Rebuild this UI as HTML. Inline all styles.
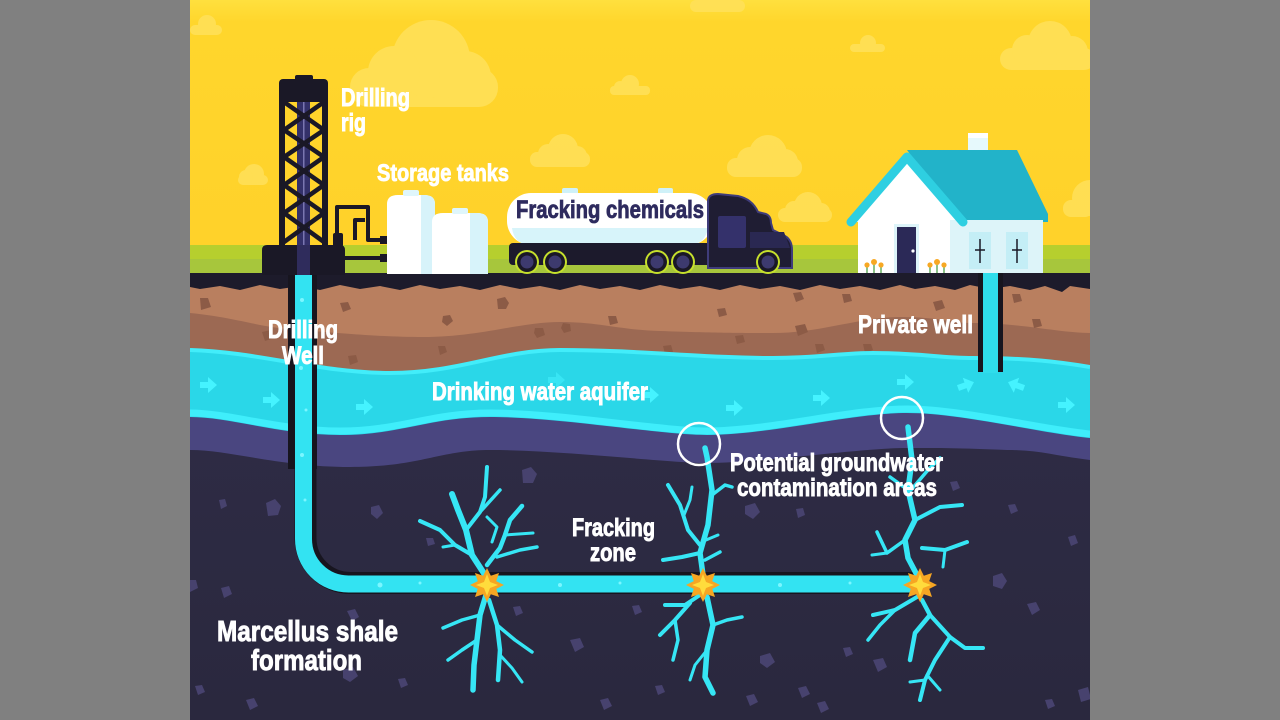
<!DOCTYPE html>
<html><head><meta charset="utf-8"><style>
html,body{margin:0;padding:0;background:#808080;width:1280px;height:720px;overflow:hidden}
svg{position:absolute;left:0;top:0}
text{font-family:"Liberation Sans Narrow","Liberation Sans",sans-serif;font-weight:bold}
</style></head><body>
<svg width="1280" height="720" viewBox="0 0 1280 720" xmlns="http://www.w3.org/2000/svg">
<defs>
<linearGradient id="sky" x1="0" y1="0" x2="0" y2="1">
<stop offset="0" stop-color="#FFE03E"/><stop offset="0.08" stop-color="#FFD62C"/><stop offset="1" stop-color="#FFD12A"/>
</linearGradient>
<linearGradient id="shale" x1="0" y1="0" x2="0" y2="1">
<stop offset="0" stop-color="#302D48"/><stop offset="1" stop-color="#2A283E"/>
</linearGradient>
<clipPath id="img"><rect x="190" y="0" width="900" height="720"/></clipPath>
</defs>
<rect x="0" y="0" width="1280" height="720" fill="#808080"/>
<g clip-path="url(#img)">
<!-- sky -->
<rect x="190" y="0" width="900" height="275" fill="url(#sky)"/>
<!-- clouds -->
<g fill="#FFE15A" opacity="0.85">
<rect x="350" y="68" width="148" height="39" rx="19"/><circle cx="431" cy="59" r="39"/><circle cx="394" cy="72" r="26"/><circle cx="465" cy="77" r="26"/>
<rect x="530" y="152" width="60" height="15" rx="7"/><circle cx="563" cy="149" r="15"/><circle cx="548" cy="154" r="10"/><circle cx="577" cy="156" r="10"/>
<rect x="238" y="175" width="30" height="10" rx="5"/><circle cx="254" cy="174" r="10"/><circle cx="246" cy="177" r="7"/>
<rect x="610" y="86" width="40" height="9" rx="4"/><circle cx="630" cy="84" r="9"/><circle cx="620" cy="87" r="6"/>
<rect x="727" y="158" width="75" height="19" rx="9"/><circle cx="768" cy="154" r="19"/><circle cx="750" cy="160" r="13"/><circle cx="785" cy="162" r="13"/>
<rect x="778" y="208" width="54" height="14" rx="7"/><circle cx="808" cy="206" r="14"/><circle cx="794" cy="210" r="9"/><circle cx="821" cy="212" r="9"/>
<rect x="850" y="44" width="35" height="8" rx="4"/><circle cx="868" cy="43" r="8"/>
<rect x="1000" y="48" width="95" height="22" rx="11"/><circle cx="1050" cy="43" r="22"/><circle cx="1027" cy="50" r="15"/><circle cx="1072" cy="52" r="16"/>
<rect x="1063" y="200" width="30" height="17" rx="8"/><circle cx="1090" cy="198" r="18"/>
<rect x="190" y="25" width="32" height="10" rx="5"/><circle cx="207" cy="24" r="9"/>
<rect x="690" y="0" width="55" height="12" rx="6"/>
</g>
<!-- green -->
<rect x="190" y="245" width="900" height="30" fill="#B6CF2E"/>
<rect x="190" y="259" width="900" height="16" fill="#A7C63C"/>

<!-- underground -->
<rect x="190" y="275" width="900" height="445" fill="url(#shale)"/>
<path d="M190,400 L1090,400 L1090,460 C1050,455 1040,450 1007,450 C960,448 940,448 907,448 C860,448 760,463 707,463 C670,463 560,450 490,450 C440,450 420,467 350,467 C280,467 230,450 190,450 Z" fill="#4A4680"/>
<rect x="190" y="278" width="900" height="122" fill="#B97F5F"/>
<path d="M190,313 C240,318 260,328 300,330 C360,335 390,337 423,337 C480,337 520,322 560,322 C600,322 620,330 660,331 C720,333 740,333 773,333 C820,333 860,317 900,317 C940,317 950,323 973,323 C1020,323 1060,333 1090,333 L1090,400 L190,400 Z" fill="#9C6953"/>
<!-- brown rocks -->
<g fill="#8C5B46">
<path d="M497,299 l8,-2 l4,6 l-3,6 l-8,0 z"/><path d="M443,316 l7,-1 l3,6 l-6,5 l-5,-4 z"/><path d="M535,328 l8,0 l2,7 l-8,3 l-3,-5 z"/>
<path d="M563,323 l7,1 l1,7 l-7,2 l-3,-5 z"/><path d="M348,356 l8,-1 l2,7 l-8,3 z"/><path d="M438,346 l7,0 l2,6 l-7,3 z"/>
<path d="M340,303 l8,-1 l3,7 l-8,3 z"/><path d="M608,316 l8,0 l2,7 l-8,2 z"/><path d="M262,332 l9,-2 l3,8 l-9,3 z"/>
<path d="M793,293 l8,-1 l3,7 l-8,3 z"/><path d="M842,294 l8,0 l2,7 l-8,2 z"/><path d="M717,309 l8,-1 l2,7 l-8,2 z"/>
<path d="M933,302 l9,-2 l3,8 l-9,3 z"/><path d="M795,326 l10,-2 l3,8 l-10,4 z"/><path d="M735,336 l8,-1 l2,7 l-8,2 z"/>
<path d="M815,344 l8,0 l2,6 l-8,3 z"/><path d="M863,344 l8,0 l2,6 l-8,3 z"/><path d="M663,346 l8,-1 l2,7 l-8,2 z"/>
<path d="M1012,294 l8,0 l2,7 l-8,2 z"/><path d="M1032,319 l8,0 l2,7 l-8,2 z"/><path d="M200,298 l8,0 l3,9 l-10,3 z"/>
</g>
<!-- aquifer -->
<path d="M190,350 C260,352 320,373 390,373 C460,373 500,350 560,350 C640,350 700,358 773,358 C820,358 840,353 873,353 C920,353 940,358 973,358 C1030,358 1060,362 1090,367 L1090,438 C1040,433 960,413 907,413 C850,413 770,435 707,435 C660,435 560,417 490,417 C430,417 400,435 340,435 C280,435 230,417 190,417 Z" fill="#2AD7E8"/>
<path d="M190,350 C260,352 320,373 390,373 C460,373 500,350 560,350 C640,350 700,358 773,358 C820,358 840,353 873,353 C920,353 940,358 973,358 C1030,358 1060,362 1090,367" fill="none" stroke="#42EDFA" stroke-width="4"/>
<path d="M1090,434 C1040,429 960,409 907,409 C850,409 770,431 707,431 C660,431 560,413 490,413 C430,413 400,431 340,431 C280,431 230,413 190,413" fill="none" stroke="#3FEEFB" stroke-width="7"/>
<!-- aquifer arrows -->
<g fill="#45F3FF">
<path d="M0,-3 h8 v-5 l9,8 l-9,8 v-5 h-8 z" transform="translate(200,385)"/>
<path d="M0,-3 h8 v-5 l9,8 l-9,8 v-5 h-8 z" transform="translate(263,400)"/>
<path d="M0,-3 h8 v-5 l9,8 l-9,8 v-5 h-8 z" transform="translate(356,407)"/>
<path d="M0,-3 h8 v-5 l9,8 l-9,8 v-5 h-8 z" transform="translate(548,380)" opacity="0.5"/>
<path d="M0,-3 h8 v-5 l9,8 l-9,8 v-5 h-8 z" transform="translate(642,395)"/>
<path d="M0,-3 h8 v-5 l9,8 l-9,8 v-5 h-8 z" transform="translate(726,408)"/>
<path d="M0,-3 h8 v-5 l9,8 l-9,8 v-5 h-8 z" transform="translate(813,398)"/>
<path d="M0,-3 h8 v-5 l9,8 l-9,8 v-5 h-8 z" transform="translate(897,382)"/>
<path d="M0,-3 h8 v-5 l9,8 l-9,8 v-5 h-8 z" transform="translate(958,388) rotate(-20)"/>
<path d="M0,-3 h8 v-5 l9,8 l-9,8 v-5 h-8 z" transform="translate(1024,388) rotate(200)"/>
<path d="M0,-3 h8 v-5 l9,8 l-9,8 v-5 h-8 z" transform="translate(1058,405)"/>
</g>
<!-- shale rocks -->
<g fill="#47426E">
<path d="M266,503 l9,-4 l6,7 l-3,9 l-10,1 z"/><path d="M219,500 l6,-1 l2,7 l-6,3 z"/><path d="M371,507 l8,-2 l4,8 l-6,6 l-6,-5 z"/>
<path d="M522,470 l9,-3 l6,7 l-4,9 l-10,0 z"/><path d="M221,588 l8,-2 l3,8 l-8,4 z"/><path d="M347,611 l8,-2 l4,8 l-7,4 z"/>
<path d="M343,670 l10,-3 l5,9 l-8,6 l-7,-4 z"/><path d="M398,679 l7,-1 l3,7 l-7,3 z"/><path d="M513,607 l7,-1 l3,7 l-7,3 z"/>
<path d="M570,640 l10,-2 l4,9 l-9,5 z"/><path d="M190,580 l6,0 l2,8 l-8,4 z"/><path d="M426,538 l7,0 l2,6 l-7,2 z"/>
<path d="M745,506 l10,-3 l5,9 l-7,7 l-8,-5 z"/><path d="M796,509 l7,-1 l2,7 l-7,3 z"/><path d="M760,656 l10,-3 l5,9 l-8,6 l-7,-5 z"/>
<path d="M993,576 l9,-3 l5,8 l-5,8 l-9,-3 z"/><path d="M1027,604 l9,-2 l4,8 l-8,5 z"/><path d="M1068,537 l7,-2 l3,8 l-7,3 z"/>
<path d="M1008,505 l7,-1 l3,7 l-7,3 z"/><path d="M873,660 l10,-2 l4,9 l-9,5 z"/><path d="M798,688 l8,-2 l4,8 l-8,4 z"/>
<path d="M817,703 l8,-2 l4,8 l-8,4 z"/><path d="M655,686 l7,-1 l3,7 l-7,3 z"/><path d="M746,696 l8,-2 l4,8 l-8,4 z"/>
<path d="M950,482 l7,-1 l3,7 l-7,3 z"/><path d="M843,648 l7,-1 l3,7 l-7,3 z"/><path d="M1078,690 l10,-3 l3,12 l-10,3 z"/>
<path d="M1045,700 l7,-1 l3,7 l-7,3 z"/><path d="M632,606 l7,-1 l3,7 l-7,3 z"/><path d="M195,686 l7,-1 l3,7 l-7,3 z"/>
<path d="M600,700 l8,-2 l4,8 l-8,4 z"/><path d="M246,700 l8,-2 l4,8 l-8,4 z"/>
</g>

<!-- ground black strip -->
<path d="M190,273 H1090 V289 L1070,286 L1062,292 L1045,286 L1030,290 L1010,286 L990,289 L970,285 L955,290 L935,286 L915,289 L900,285 L880,290 L860,286 L840,289 L820,285 L800,290 L780,286 L760,289 L740,285 L720,290 L700,286 L680,289 L660,285 L640,290 L620,286 L600,289 L580,285 L560,290 L540,286 L520,289 L500,285 L480,290 L460,286 L440,289 L420,285 L400,290 L380,286 L360,289 L340,285 L320,290 L300,286 L280,289 L260,285 L240,290 L220,286 L200,289 L190,287 Z" fill="#1D1B2B"/>

<!-- drilling well shaft -->
<rect x="288" y="273" width="29" height="196" fill="#17151F"/>
<path d="M303.5,273 V539 A45,45 0 0 0 348.5,584 H920" fill="none" stroke="#17151F" stroke-width="22" transform="translate(2,-1)"/>
<path d="M303.5,273 V539 A45,45 0 0 0 348.5,584 H920" fill="none" stroke="#33E3F2" stroke-width="17"/>
<g fill="#7BF6FF">
<circle cx="302" cy="300" r="2"/><circle cx="305" cy="330" r="1.5"/><circle cx="301" cy="368" r="2"/><circle cx="306" cy="410" r="1.5"/><circle cx="302" cy="455" r="2"/><circle cx="305" cy="500" r="1.5"/>
<circle cx="380" cy="585" r="2.5"/><circle cx="420" cy="583" r="1.5"/><circle cx="560" cy="585" r="2"/><circle cx="620" cy="583" r="1.5"/><circle cx="780" cy="585" r="2"/><circle cx="850" cy="583" r="1.5"/>
</g>

<!-- private well -->
<rect x="978" y="273" width="25" height="99" fill="#17151F"/>
<rect x="983" y="273" width="15" height="100" fill="#2FDDEC"/>

<!-- fractures -->
<g fill="none" stroke="#36E6F5" stroke-linecap="round" stroke-linejoin="round">
<!-- fracture 1 -->
<polyline points="485,575 472,555 466,530 458,510 452,494" stroke-width="6"/>
<polyline points="466,530 480,512 485,497 487,467" stroke-width="4"/>
<polyline points="480,512 500,490" stroke-width="3.5"/>
<polyline points="472,555 455,545 440,530 420,521" stroke-width="4"/>
<polyline points="455,545 443,547" stroke-width="3"/>
<polyline points="487,565 500,548 505,535 510,520 522,506" stroke-width="4.5"/>
<polyline points="505,535 533,533" stroke-width="3"/>
<polyline points="497,557 520,550 537,547" stroke-width="3.5"/>
<polyline points="492,542 497,527 487,517" stroke-width="3"/>
<polyline points="486,595 480,615 477,640 474,665 473,690" stroke-width="5.5"/>
<polyline points="489,600 497,625 500,650 498,680" stroke-width="4.5"/>
<polyline points="497,625 515,640 532,652" stroke-width="3.5"/>
<polyline points="480,615 462,620 443,628" stroke-width="3.5"/>
<polyline points="477,640 462,650 448,660" stroke-width="3.5"/>
<polyline points="500,655 512,668 522,682" stroke-width="3"/>
<!-- fracture 2 -->
<polyline points="703,575 700,553 708,525 712,490 707,457 705,448" stroke-width="5.5"/>
<polyline points="712,495 725,485 732,487" stroke-width="3.5"/>
<polyline points="700,553 682,557 663,560" stroke-width="4"/>
<polyline points="700,545 688,530 680,505 668,485" stroke-width="4"/>
<polyline points="684,515 690,500 692,487" stroke-width="3"/>
<polyline points="705,560 720,552" stroke-width="3.5"/>
<polyline points="706,540 718,535" stroke-width="3"/>
<polyline points="700,595 685,605 665,605" stroke-width="4"/>
<polyline points="690,603 675,620 660,635" stroke-width="4"/>
<polyline points="675,620 678,640 673,660" stroke-width="3.5"/>
<polyline points="707,597 713,625 707,650 705,677 713,693" stroke-width="5.5"/>
<polyline points="713,625 727,620 742,617" stroke-width="3.5"/>
<polyline points="707,650 695,665 690,680" stroke-width="3"/>
<!-- fracture 3 -->
<polyline points="917,575 908,558 905,540 915,520 908,490 912,460 908,427" stroke-width="5.5"/>
<polyline points="908,490 890,477" stroke-width="3.5"/>
<polyline points="915,520 940,507 962,505" stroke-width="4"/>
<polyline points="922,548 945,550 967,542" stroke-width="4"/>
<polyline points="945,550 943,567" stroke-width="3"/>
<polyline points="905,540 887,553 877,532" stroke-width="3.5"/>
<polyline points="887,553 872,555" stroke-width="3"/>
<polyline points="911,490 928,470 940,458" stroke-width="3.5"/>
<polyline points="917,597 895,610 873,615" stroke-width="4"/>
<polyline points="895,610 880,625 868,640" stroke-width="3.5"/>
<polyline points="922,600 930,615 915,633 910,660" stroke-width="4.5"/>
<polyline points="930,615 950,637 965,648 983,648" stroke-width="4"/>
<polyline points="950,637 935,660 925,680 920,700" stroke-width="4"/>
<polyline points="925,680 910,682" stroke-width="3"/>
<polyline points="927,675 940,690" stroke-width="3"/>
</g>

<!-- stars -->
<g transform="translate(487,585)">
<polygon points="0,-17 3.83,-9.24 12.02,-12.02 9.24,-3.83 17,0 9.24,3.83 12.02,12.02 3.83,9.24 0,17 -3.83,9.24 -12.02,12.02 -9.24,3.83 -17,0 -9.24,-3.83 -12.02,-12.02 -3.83,-9.24" fill="#F6A623"/>
<polygon points="0,-11 3,-3 11,0 3,3 0,11 -3,3 -11,0 -3,-3" fill="#FFDC3C"/>
</g>
<g transform="translate(703,585)">
<polygon points="0,-17 3.83,-9.24 12.02,-12.02 9.24,-3.83 17,0 9.24,3.83 12.02,12.02 3.83,9.24 0,17 -3.83,9.24 -12.02,12.02 -9.24,3.83 -17,0 -9.24,-3.83 -12.02,-12.02 -3.83,-9.24" fill="#F6A623"/>
<polygon points="0,-11 3,-3 11,0 3,3 0,11 -3,3 -11,0 -3,-3" fill="#FFDC3C"/>
</g>
<g transform="translate(920,585)">
<polygon points="0,-17 3.83,-9.24 12.02,-12.02 9.24,-3.83 17,0 9.24,3.83 12.02,12.02 3.83,9.24 0,17 -3.83,9.24 -12.02,12.02 -9.24,3.83 -17,0 -9.24,-3.83 -12.02,-12.02 -3.83,-9.24" fill="#F6A623"/>
<polygon points="0,-11 3,-3 11,0 3,3 0,11 -3,3 -11,0 -3,-3" fill="#FFDC3C"/>
</g>

<!-- circles -->
<circle cx="699" cy="444" r="21" fill="none" stroke="#FFFFFF" stroke-width="2.5"/>
<circle cx="902" cy="418" r="21" fill="none" stroke="#FFFFFF" stroke-width="2.5"/>

<!-- drilling rig -->
<rect x="297" y="100" width="13" height="175" fill="#34316A"/>
<rect x="303" y="100" width="1.5" height="145" fill="#7A76B0"/>
<rect x="295" y="75" width="18" height="8" rx="2" fill="#1A1826"/>
<rect x="279" y="79" width="49" height="23" rx="4" fill="#1A1826"/>
<rect x="279" y="95" width="6" height="152" fill="#1A1826"/>
<rect x="322" y="95" width="6" height="152" fill="#1A1826"/>
<g stroke="#1A1826" stroke-width="4.5" stroke-linecap="round">
<line x1="284" y1="102" x2="324" y2="130"/><line x1="324" y1="102" x2="284" y2="130"/>
<line x1="284" y1="130" x2="324" y2="157"/><line x1="324" y1="130" x2="284" y2="157"/>
<line x1="284" y1="157" x2="324" y2="185"/><line x1="324" y1="157" x2="284" y2="185"/>
<line x1="284" y1="185" x2="324" y2="213"/><line x1="324" y1="185" x2="284" y2="213"/>
<line x1="284" y1="213" x2="324" y2="242"/><line x1="324" y1="213" x2="284" y2="242"/>
</g>
<path d="M262,250 Q262,245 267,245 L340,245 Q345,245 345,250 L345,275 L262,275 Z" fill="#1A1826"/>
<rect x="297" y="245" width="13" height="30" fill="#2F2C5C"/>
<rect x="333" y="233" width="10" height="14" rx="2" fill="#1A1826"/>
<g fill="none" stroke="#1A1826" stroke-width="4" stroke-linejoin="round">
<path d="M337,235 V207 H368 V240 H388"/>
<path d="M355,240 V220 H365"/>
<path d="M345,258 H388"/>
</g>
<rect x="380" y="236" width="8" height="8" fill="#1A1826"/>
<rect x="380" y="254" width="8" height="8" fill="#1A1826"/>

<!-- storage tanks -->
<path d="M387,274 V204 Q387,195 398,195 L424,195 Q435,195 435,204 V274 Z" fill="#FFFFFF"/>
<path d="M421,195 L424,195 Q435,195 435,204 V274 H421 Z" fill="#D7F3FA"/>
<rect x="403" y="190" width="16" height="6" rx="2" fill="#DFF6FB"/>
<path d="M432,274 V222 Q432,213 443,213 L477,213 Q488,213 488,222 V274 Z" fill="#FFFFFF"/>
<path d="M470,213 L477,213 Q488,213 488,222 V274 H470 Z" fill="#D7F3FA"/>
<rect x="452" y="208" width="16" height="6" rx="2" fill="#DFF6FB"/>

<!-- truck -->
<rect x="562" y="188" width="16" height="7" rx="2" fill="#CFF1F8"/>
<rect x="658" y="188" width="15" height="7" rx="2" fill="#CFF1F8"/>
<rect x="507" y="193" width="206" height="52" rx="24" fill="#FFFFFF"/>
<path d="M512,228 H708 Q705,244 690,245 H530 Q514,244 512,228 Z" fill="#D7F4FA"/>
<rect x="509" y="243" width="205" height="22" rx="4" fill="#1C1A2C"/>
<path d="M708,268 L708,200 Q709,194 718,194 L738,196 Q752,199 758,212 L766,214 Q771,216 771,223 L773,230 L785,236 Q792,240 792,250 L792,268 Z" fill="#1F1D33" stroke="#3F3C7A" stroke-width="2"/>
<rect x="718" y="216" width="28" height="32" rx="2" fill="#34316B"/>
<path d="M750,232 H784 L790,248 H750 Z" fill="#2A2852"/>
<g>
<circle cx="527" cy="262" r="12" fill="#C6E02C"/><circle cx="527" cy="262" r="10" fill="#1A1826"/><circle cx="527" cy="262" r="6.5" fill="#3D3A6E"/>
<circle cx="555" cy="262" r="12" fill="#C6E02C"/><circle cx="555" cy="262" r="10" fill="#1A1826"/><circle cx="555" cy="262" r="6.5" fill="#3D3A6E"/>
<circle cx="657" cy="262" r="12" fill="#C6E02C"/><circle cx="657" cy="262" r="10" fill="#1A1826"/><circle cx="657" cy="262" r="6.5" fill="#3D3A6E"/>
<circle cx="683" cy="262" r="12" fill="#C6E02C"/><circle cx="683" cy="262" r="10" fill="#1A1826"/><circle cx="683" cy="262" r="6.5" fill="#3D3A6E"/>
<circle cx="768" cy="262" r="12" fill="#C6E02C"/><circle cx="768" cy="262" r="10" fill="#1A1826"/><circle cx="768" cy="262" r="6.5" fill="#3D3A6E"/>
</g>

<!-- house -->
<rect x="968" y="133" width="20" height="32" fill="#E6F9FC"/>
<rect x="968" y="133" width="20" height="5" fill="#FFFFFF"/>
<polygon points="907,150 1017,150 1048,214 1048,222 960,222" fill="#22B3C9"/>
<rect x="950" y="220" width="93" height="53" fill="#DDF4F9"/>
<polygon points="855,222 907,160 958,222 958,273 858,273 858,222" fill="#FFFFFF"/>
<rect x="950" y="220" width="8" height="53" fill="#DDF4F9"/>
<polyline points="851,222 907,157 963,222" fill="none" stroke="#2ECFE1" stroke-width="9" stroke-linejoin="round" stroke-linecap="round"/>
<rect x="894" y="224" width="25" height="49" fill="#DDF4F9"/>
<rect x="897" y="227" width="19" height="46" fill="#2B2957"/>
<circle cx="913" cy="251" r="1.6" fill="#FFFFFF"/>
<rect x="969" y="232" width="22" height="37" fill="#C4EEF6"/>
<rect x="1006" y="232" width="22" height="37" fill="#C4EEF6"/>
<g stroke="#1A1826" stroke-width="1.5">
<line x1="980" y1="239" x2="980" y2="263"/><line x1="975" y1="250" x2="985" y2="250"/>
<line x1="1017" y1="239" x2="1017" y2="263"/><line x1="1012" y1="250" x2="1022" y2="250"/>
</g>
<g stroke="#3E9A3A" stroke-width="1.2">
<line x1="867" y1="266" x2="867" y2="273"/><line x1="874" y1="263" x2="874" y2="273"/><line x1="881" y1="266" x2="881" y2="273"/>
<line x1="930" y1="266" x2="930" y2="273"/><line x1="937" y1="263" x2="937" y2="273"/><line x1="944" y1="266" x2="944" y2="273"/>
</g>
<g fill="#F7A823">
<circle cx="867" cy="265" r="2.6"/><circle cx="874" cy="262" r="3"/><circle cx="881" cy="265" r="2.6"/>
<circle cx="930" cy="265" r="2.6"/><circle cx="937" cy="262" r="3"/><circle cx="944" cy="265" r="2.6"/>
</g>

<!-- labels -->
<g fill="#FFFFFF" stroke="#FFFFFF" stroke-width="0.9">
<text x="341" y="106" font-size="25" textLength="69" lengthAdjust="spacingAndGlyphs">Drilling</text>
<text x="341" y="131" font-size="25" textLength="25" lengthAdjust="spacingAndGlyphs">rig</text>
<text x="377" y="181" font-size="24" textLength="132" lengthAdjust="spacingAndGlyphs">Storage tanks</text>
<text x="268" y="338" font-size="25" textLength="70" lengthAdjust="spacingAndGlyphs">Drilling</text>
<text x="282" y="364" font-size="25" textLength="42" lengthAdjust="spacingAndGlyphs">Well</text>
<text x="432" y="400" font-size="25" textLength="216" lengthAdjust="spacingAndGlyphs">Drinking water aquifer</text>
<text x="858" y="333" font-size="25" textLength="115" lengthAdjust="spacingAndGlyphs">Private well</text>
<text x="730" y="471" font-size="25" textLength="213" lengthAdjust="spacingAndGlyphs">Potential groundwater</text>
<text x="737" y="496" font-size="25" textLength="200" lengthAdjust="spacingAndGlyphs">contamination areas</text>
<text x="572" y="536" font-size="25" textLength="83" lengthAdjust="spacingAndGlyphs">Fracking</text>
<text x="590" y="561" font-size="25" textLength="46" lengthAdjust="spacingAndGlyphs">zone</text>
<text x="217" y="641" font-size="29" textLength="181" lengthAdjust="spacingAndGlyphs">Marcellus shale</text>
<text x="251" y="670" font-size="29" textLength="111" lengthAdjust="spacingAndGlyphs">formation</text>
</g>
<text x="516" y="218" font-size="25" fill="#2E2B5E" stroke="#2E2B5E" stroke-width="0.8" textLength="188" lengthAdjust="spacingAndGlyphs">Fracking chemicals</text>
</g>
</svg>
</body></html>
